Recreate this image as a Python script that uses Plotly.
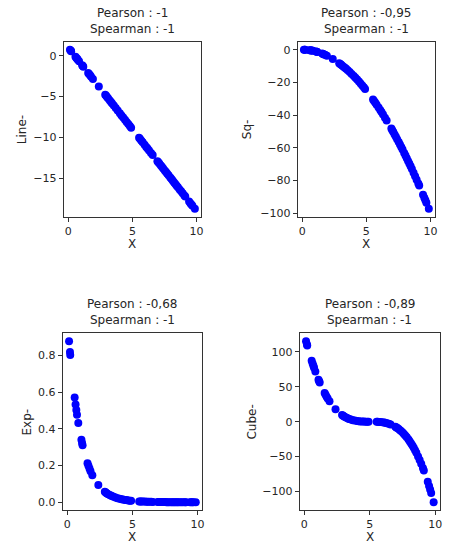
import plotly.graph_objects as go

# Sample positions shared by all four relationships
x = [0.13, 0.20, 0.22, 0.56, 0.63, 0.69, 0.74, 0.84, 1.08, 1.13, 1.17, 1.55,
     1.62, 1.70, 1.78, 1.92, 2.38, 2.88, 2.95, 3.02, 3.10, 3.22, 3.33, 3.42,
     3.55, 3.70, 3.85, 4.02, 4.15, 4.28, 4.42, 4.55, 4.68, 4.80, 4.90, 5.52,
     5.60, 5.70, 5.80, 5.95, 6.08, 6.18, 6.30, 6.45, 6.58, 6.95, 7.02, 7.10,
     7.20, 7.30, 7.40, 7.52, 7.62, 7.72, 7.82, 7.95, 8.05, 8.15, 8.25, 8.35,
     8.45, 8.55, 8.68, 8.80, 8.92, 9.05, 9.12, 9.42, 9.52, 9.60, 9.68, 9.87]

line_y = [0.74, 0.60, 0.56, -0.12, -0.26, -0.38, -0.48, -0.68, -1.16, -1.26,
          -1.34, -2.10, -2.24, -2.40, -2.56, -2.84, -3.76, -4.76, -4.90, -5.04,
          -5.20, -5.44, -5.66, -5.84, -6.10, -6.40, -6.70, -7.04, -7.30, -7.56,
          -7.84, -8.10, -8.36, -8.60, -8.80, -10.04, -10.20, -10.40, -10.60,
          -10.90, -11.16, -11.36, -11.60, -11.90, -12.16, -12.90, -13.04,
          -13.20, -13.40, -13.60, -13.80, -14.04, -14.24, -14.44, -14.64,
          -14.90, -15.10, -15.30, -15.50, -15.70, -15.90, -16.10, -16.36,
          -16.60, -16.84, -17.10, -17.24, -17.84, -18.04, -18.20, -18.36,
          -18.74]

sq_y = [-0.02, -0.04, -0.05, -0.31, -0.40, -0.48, -0.55, -0.71, -1.17, -1.28,
        -1.37, -2.40, -2.62, -2.89, -3.17, -3.69, -5.66, -8.29, -8.70, -9.12,
        -9.61, -10.37, -11.09, -11.70, -12.60, -13.69, -14.82, -16.16, -17.22,
        -18.32, -19.54, -20.70, -21.90, -23.04, -24.01, -30.47, -31.36, -32.49,
        -33.64, -35.40, -36.97, -38.19, -39.69, -41.60, -43.30, -48.30, -49.28,
        -50.41, -51.84, -53.29, -54.76, -56.55, -58.06, -59.60, -61.15, -63.20,
        -64.80, -66.42, -68.06, -69.72, -71.40, -73.10, -75.34, -77.44, -79.57,
        -81.90, -83.17, -88.74, -90.63, -92.16, -93.70, -97.42]

exp_y = [0.878, 0.819, 0.803, 0.571, 0.533, 0.502, 0.477, 0.432, 0.340, 0.323,
         0.310, 0.212, 0.198, 0.183, 0.169, 0.147, 0.093, 0.056, 0.052, 0.049,
         0.045, 0.040, 0.036, 0.033, 0.029, 0.025, 0.021, 0.018, 0.016, 0.014,
         0.012, 0.011, 0.009, 0.008, 0.007, 0.004, 0.004, 0.003, 0.003, 0.003,
         0.002, 0.002, 0.002, 0.002, 0.001, 0.001, 0.001, 0.001, 0.001, 0.001,
         0.001, 0.001, 0.000, 0.000, 0.000, 0.000, 0.000, 0.000, 0.000, 0.000,
         0.000, 0.000, 0.000, 0.000, 0.000, 0.000, 0.000, 0.000, 0.000, 0.000,
         0.000, 0.000]

cube_y = [115.5, 110.6, 109.2, 87.5, 83.5, 80.1, 77.3, 72.0, 60.2, 58.0, 56.2,
          41.1, 38.6, 35.9, 33.4, 29.2, 18.0, 9.53, 8.62, 7.76, 6.86, 5.64,
          4.66, 3.94, 3.05, 2.20, 1.52, 0.94, 0.61, 0.37, 0.20, 0.09, 0.03,
          0.01, 0.00, -0.14, -0.22, -0.34, -0.51, -0.86, -1.26, -1.64, -2.20,
          -3.05, -3.94, -7.41, -8.24, -9.26, -10.65, -12.17, -13.82, -16.00,
          -17.98, -20.12, -22.43, -25.67, -28.37, -31.26, -34.33, -37.60,
          -41.06, -44.74, -49.84, -54.87, -60.24, -66.43, -69.93, -86.35,
          -92.35, -97.34, -102.50, -115.50]

y_names = ["Line-", "Sq-", "Exp-", "Cube-"]
pearson = ["-1", "-0,95", "-0,68", "-0,89"]
spearman = ["-1", "-1", "-1", "-1"]
series = [line_y, sq_y, exp_y, cube_y]

yticks = [[0, -5, -10, -15],
          [0, -20, -40, -60, -80, -100],
          [0.0, 0.2, 0.4, 0.6, 0.8],
          [100, 50, 0, -50, -100]]
ytick_fmt = ["", "", ".1f", ""]
xticks = [0, 5, 10]

W, H = 451, 546
# panel boxes in pixels: left, right, top, bottom
boxes = [(64, 202, 42, 218), (299, 437, 42, 218),
         (63, 203, 335, 513), (301, 442, 335, 513)]
ylab_x = [22, 248, 27, 253]

FONT = "DejaVu Sans"
TXT = "#262626"


def pad(vals, frac=0.05):
    lo, hi = min(vals), max(vals)
    d = (hi - lo) * frac
    return [lo - d, hi + d]


fig = go.Figure()
annotations = []
for i, ys in enumerate(series):
    n = "" if i == 0 else str(i + 1)
    fig.add_trace(go.Scatter(
        x=x, y=ys, mode="markers", xaxis="x" + n, yaxis="y" + n,
        marker=dict(color="#0000ff", size=8, line=dict(width=0)),
        showlegend=False, hoverinfo="x+y"))

    l, r, t, b = boxes[i]
    axis_common = dict(
        showgrid=False, zeroline=False, showline=True, mirror=True,
        linecolor="#333333", linewidth=1, ticks="outside", ticklen=4,
        tickcolor="#333333", tickwidth=1,
        tickfont=dict(family=FONT, size=11, color=TXT))
    fig.update_layout(**{
        "xaxis" + n: dict(domain=[l / W, r / W], anchor="y" + n,
                          range=pad(x), tickvals=xticks, **axis_common),
        "yaxis" + n: dict(domain=[1 - b / H, 1 - t / H], anchor="x" + n,
                          range=pad(ys), tickvals=yticks[i],
                          tickformat=ytick_fmt[i], **axis_common),
    })

    cx = (l + r) / 2 / W
    annotations += [
        dict(text="Pearson : " + pearson[i], x=cx, y=1 - (t - 29) / H),
        dict(text="Spearman : " + spearman[i], x=cx, y=1 - (t - 13) / H),
        dict(text="X", x=cx, y=1 - (b + 27) / H, yanchor="middle"),
        dict(text=y_names[i], x=ylab_x[i] / W, y=1 - (t + b) / 2 / H,
             textangle=-90),
    ]

for a in annotations:
    a.update(xref="paper", yref="paper", showarrow=False,
             xanchor="center", yanchor="middle",
             font=dict(family=FONT, size=12, color=TXT))

fig.update_layout(
    width=W, height=H, margin=dict(l=0, r=0, t=0, b=0),
    paper_bgcolor="white", plot_bgcolor="white",
    annotations=annotations, font=dict(family=FONT, color=TXT))

fig.write_html("out.html")
